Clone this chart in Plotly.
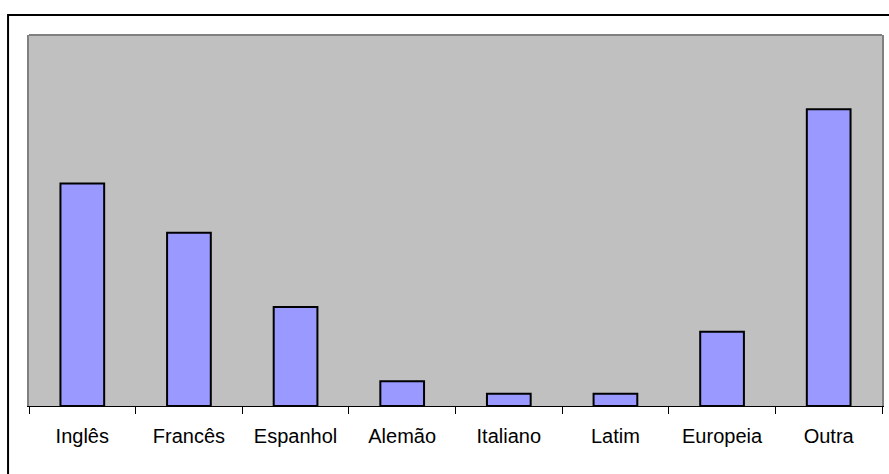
import plotly.graph_objects as go

categories = ["Inglês", "Francês", "Espanhol", "Alemão", "Italiano", "Latim", "Europeia", "Outra"]
values = [18, 14, 8, 2, 1, 1, 6, 24]

W, H = 889, 474
L, R, T, B = 29, 5, 35, 67.5
pw = W - L - R
ph = H - T - B

fig = go.Figure(go.Bar(
    x=categories, y=values,
    marker=dict(color="#9999FF", line=dict(color="#000000", width=2)),
    hoverinfo="x+y",
))

def px2paper_x(p):
    return (p - L) / pw

def px2paper_y(p):
    return (H - B - p) / ph

fig.update_layout(
    width=W, height=H,
    margin=dict(l=L, r=R, t=T, b=B, pad=0),
    paper_bgcolor="#FFFFFF",
    plot_bgcolor="#C0C0C0",
    bargap=0.59,
    showlegend=False,
    font=dict(family="Liberation Sans, Arial, sans-serif", size=20, color="#000000"),
    xaxis=dict(
        showline=True, linecolor="#000000", linewidth=1,
        ticks="outside", tickson="boundaries", ticklen=7, tickcolor="#000000", tickwidth=1,
        showgrid=False, zeroline=False, fixedrange=True,
        tickfont=dict(size=20), ticklabelstandoff=12,
    ),
    yaxis=dict(
        range=[0, 30], showticklabels=False, ticks="", showgrid=False, zeroline=False,
        showline=True, linecolor="#808080", linewidth=2, mirror=True, fixedrange=True,
    ),
    shapes=[
        dict(type="line", xref="paper", yref="paper", x0=0, x1=1, y0=1, y1=1,
             line=dict(color="#808080", width=2)),
        dict(type="rect", xref="paper", yref="paper",
             x0=px2paper_x(8), x1=px2paper_x(W + 20),
             y0=px2paper_y(H + 20), y1=px2paper_y(15),
             line=dict(color="#000000", width=2), fillcolor="rgba(0,0,0,0)", layer="below"),
    ],
)

fig.write_html(
    "out.html",
    config={"displayModeBar": False},
    post_script="document.body.style.margin='0';document.body.style.overflow='hidden';",
)
